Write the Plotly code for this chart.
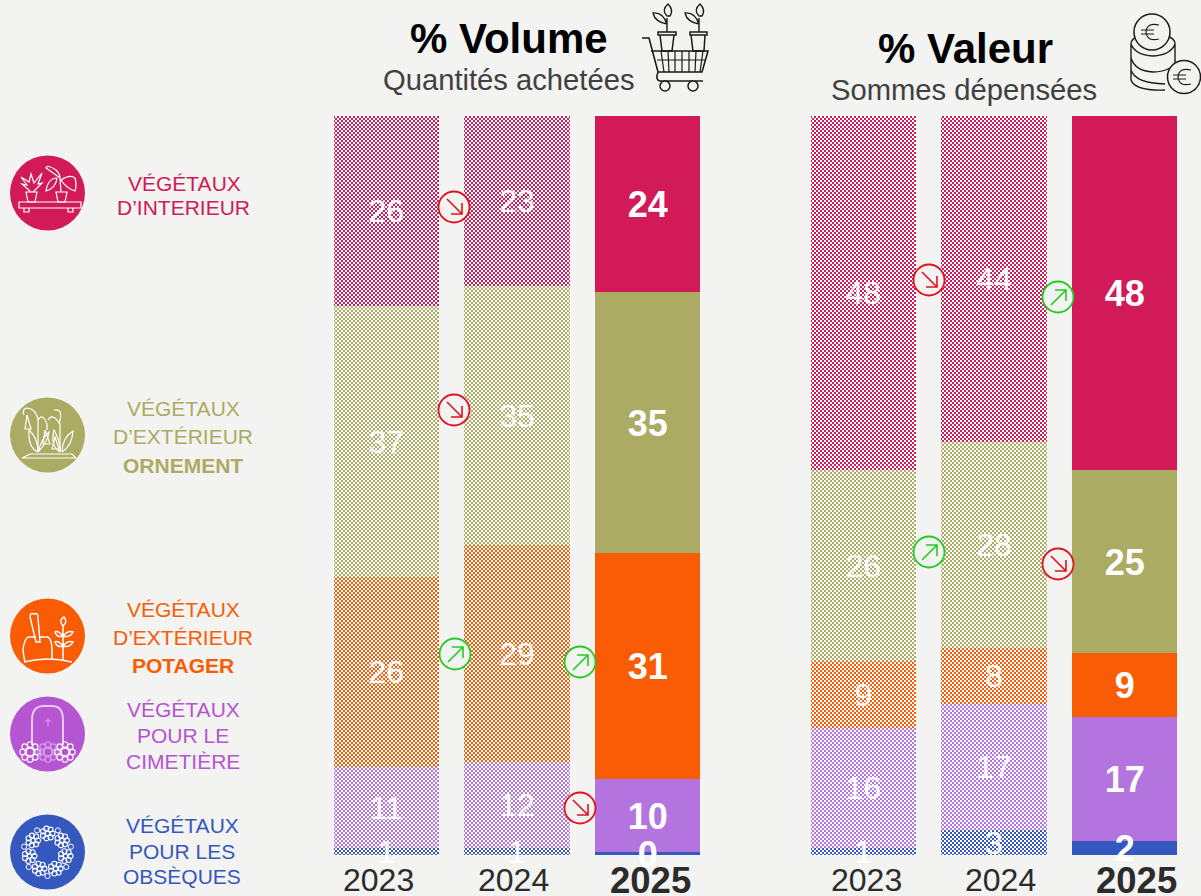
import math
import plotly.graph_objects as go

years = ["2023", "2024", "2025"]
series = ["Obsèques", "Cimetière", "Potager", "Ornement", "Intérieur"]
colors = ["#3558BE", "#B374DF", "#F95C04", "#ABAB63", "#D11A57"]
volume = {
    "Obsèques": [0.95, 0.95, 0.4],
    "Cimetière": [10.95, 11.6, 9.9],
    "Potager": [25.7, 29.4, 30.6],
    "Ornement": [36.7, 35.0, 35.3],
    "Intérieur": [25.7, 23.0, 23.8],
}
valeur = {
    "Obsèques": [0.95, 3.4, 1.9],
    "Cimetière": [16.2, 17.05, 16.8],
    "Potager": [9.1, 7.6, 8.7],
    "Ornement": [25.8, 27.9, 24.8],
    "Intérieur": [47.9, 44.1, 47.9],
}
BG = "#F3F3F1"
W, H = 1201, 896
FONT = "Liberation Sans, Arial, sans-serif"
LABEL_NUDGE = {False: 0.45, True: 0.6}  # optical centring of value labels, in axis %

fig = go.Figure()
for axis, data in (("", volume), ("2", valeur)):
    for name, col in zip(series, colors):
        fig.add_trace(go.Bar(
            x=years, y=data[name], name=name, xaxis="x" + axis, yaxis="y" + axis,
            marker=dict(color=col, line_width=0,
                        pattern=dict(shape=["x", "x", ""], size=4, solidity=0.55,
                                     fgcolor=col, bgcolor="#FFFFFF", fillmode="replace")),
            showlegend=False, hoverinfo="skip"))
    # value labels sit above every bar, centred on each normalised segment
    for i, yr in enumerate(years):
        total = sum(data[n][i] for n in series)
        last = i == 2
        run = 0
        xs, ys, ts = [], [], []
        for n in series:
            v = data[n][i]
            xs.append(yr); ys.append((run + v / 2) * 100 / total - LABEL_NUDGE[last]); ts.append(f"{v:.0f}")
            run += v
        fig.add_trace(go.Scatter(
            x=xs, y=ys, text=ts, mode="text", textposition="middle center", cliponaxis=False,
            xaxis="x" + axis, yaxis="y" + axis, showlegend=False, hoverinfo="skip",
            textfont=dict(family=FONT, color="white", size=36 if last else 32,
                          weight="bold" if last else "normal")))
# pixel overlay axes for decorations
fig.add_trace(go.Scatter(x=[0], y=[0], xaxis="x3", yaxis="y3", mode="markers",
                         marker=dict(opacity=0), showlegend=False, hoverinfo="skip"))

def xa(d, anchor):
    return dict(domain=d, type="category", categoryorder="array", categoryarray=years, anchor=anchor,
                showticklabels=False, ticks="", showline=False, showgrid=False, zeroline=False)
def ya(anchor):
    # 739 px span 0-100; 30 px of spare room below zero keeps the small labels in range
    return dict(domain=[1 - 885 / H, 1 - 116 / H], range=[-30 * 100 / 739, 100], visible=False, anchor=anchor)

shapes, ann = [], []
def line(path, color, w=1.5, layer="above"):
    shapes.append(dict(type="path", xref="x3", yref="y3", path=path, layer=layer,
                       line=dict(color=color, width=w)))
def circ(cx, cy, r, fill=None, color=None, w=1.5):
    shapes.append(dict(type="circle", xref="x3", yref="y3", x0=cx - r, x1=cx + r, y0=cy - r, y1=cy + r,
                       fillcolor=fill if fill else "rgba(0,0,0,0)",
                       line=dict(color=color if color else "rgba(0,0,0,0)", width=w)))
def text(x, y, s, size, color, bold=False):
    ann.append(dict(xref="x3", yref="y3", x=x, y=y, text=f"<b>{s}</b>" if bold else s, showarrow=False,
                    xanchor="center", yanchor="middle", font=dict(family=FONT, size=size, color=color)))

# titles
text(509, 38, "% Volume", 42, "#000000", True)
text(509, 80, "Quantités achetées", 29.2, "#404040")
text(965, 48, "% Valeur", 42, "#000000", True)
text(964, 90, "Sommes dépensées", 29.2, "#404040")

# year labels
for cx, yr in zip((378.5, 513.5, 650.5, 866, 1000, 1136), years * 2):
    last = yr == "2025"
    text(cx, 880, yr, 36.5 if last else 32, "#2B2B2B", last)

# category labels
PINK, OLIVE, ORANGE, PURPLE, BLUE = "#D11A57", "#ABAB63", "#F95C04", "#B655D2", "#3558BE"
LS = 21
text(184, 183, "VÉGÉTAUX", LS, PINK); text(183, 207, "D’INTERIEUR", 21, PINK)
text(183, 408, "VÉGÉTAUX", LS, OLIVE); text(183, 436, "D’EXTÉRIEUR", LS, OLIVE); text(183, 465, "ORNEMENT", LS, OLIVE, True)
text(183, 609, "VÉGÉTAUX", LS, ORANGE); text(183, 637, "D’EXTÉRIEUR", LS, ORANGE); text(183, 665, "POTAGER", LS, ORANGE, True)
text(183, 709, "VÉGÉTAUX", LS, PURPLE); text(183, 735, "POUR LE", LS, PURPLE); text(183, 761, "CIMETIÈRE", LS, PURPLE)
text(182, 825, "VÉGÉTAUX", LS, BLUE); text(182, 851, "POUR LES", LS, BLUE); text(182, 876, "OBSÈQUES", LS, BLUE)

# category discs
for cy, c in ((193, PINK), (435, OLIVE), (636, ORANGE), (734, PURPLE), (852, BLUE)):
    circ(47.5, cy, 37.5, fill=c)

WH = "#FFFFFF"
# interior plants
line("M19,202 H81 V208 H19 Z M24,208 V212 H29 V208 M68,208 V212 H73 V208", WH, 1.2)
line("M26,192 H37 L35,202 H28 Z M56,192 H67 L65,202 H58 Z", WH, 1.2)
line("M31,192 L22,184 L27,185 L21,177 L29,182 L31,174 L34,183 L42,173 L38,184 L42,183 L33,192", WH, 1.2)
line("M61,192 L60,178 M60,178 Q52,172 46,168 Q47,164 56,170 Q60,174 60,178 M61,180 Q70,174 75,178 Q77,186 75,191 Q66,188 61,180 M57,178 Q48,178 46,191 Q56,188 57,178", WH, 1.2)
# ornamental
line("M22,458 H76 L72,454 H30 Z", WH, 1.2)
line("M38,452 V420 Q36,408 26,408 Q22,410 24,415 M38,420 Q42,412 47,424 V430 M60,452 V424 Q52,412 48,420 M59,424 Q64,408 54,410", WH, 1.2)
line("M38,452 Q28,448 29,430 Q38,438 38,452 M38,452 Q48,442 49,432 Q42,438 38,452 M60,452 Q50,446 54,430 Q60,440 60,452 M62,452 Q72,446 73,431 Q62,438 62,452", WH, 1.2)
line("M27,415 L25,429 L31,429 Z M45,430 L43,444 L50,444 Z M55,437 L52,449 L59,449 Z", WH, 1.2)
# vegetable garden
line("M30,617 Q30,612 34,614 Q38,612 38,618 L40,642 H36 Z", WH, 1.5)
line("M36,637 H28 Q24,640 23,650 Q24,658 25,662 M40,637 H48 Q52,640 52,650 V660", WH, 1.5)
line("M24,662 Q48,656 72,662", WH, 1.5)
line("M63,660 V625 M63,626 Q58,620 64,617 Q68,622 63,626 M63,636 Q58,630 55,632 Q57,638 63,636 M63,636 Q68,630 73,632 Q70,638 63,636 M63,646 Q58,640 55,642 Q57,648 63,646 M63,646 Q68,640 73,642 Q70,648 63,646", WH, 1.5)
# cemetery
line("M32,745 V720 Q32,706 44,706 H52 Q63,706 63,720 V745", "#E6C8F0", 2)
line("M48,718 V727 M45,721 H51", "#D6A0E6", 1)
for cx, op in ((30, WH), (48, "#D6A0E6"), (65, WH)):
    circ(cx, 752, 4, color=op, w=1.4)
    for k in range(8):
        a = k * math.pi / 4
        circ(cx + 7.5 * math.cos(a), 752 + 7.5 * math.sin(a), 2.8, color=op, w=1.1)
# wreath
for k in range(7):
    a = -math.pi / 2 + k * 2 * math.pi / 7
    cx, cy = 47.5 + 18.5 * math.cos(a), 852 + 18.5 * math.sin(a)
    circ(cx, cy, 2.2, color=WH, w=1.1)
    for j in range(7):
        b = j * 2 * math.pi / 7
        circ(cx + 5 * math.cos(b), cy + 5 * math.sin(b), 2.5, color=WH, w=1.1)
    a2 = a + math.pi / 7
    lx, ly = 47.5 + 24 * math.cos(a2), 852 + 24 * math.sin(a2)
    circ(lx, ly, 2.6, color=WH, w=1)

# cart icon
K = "#1A1A1A"
line("M642,38 H649 L658,72 H702 L708,51 H651", K, 1.6)
line("M657,60 H705 M661,51 L664,72 M668,51 L669,72 M675,51 V72 M682,51 V72 M689,51 V72 M696,51 L695,72 M703,51 L700,72", K, 1.2)
line("M658,72 Q655,80 660,81 H701 M660,81 H703", K, 1.6)
circ(665, 86, 5, fill=BG, color=K); circ(693, 86, 5, fill=BG, color=K)
line("M658,32 H676 V35 H658 Z M660,35 L662,51 H672 L674,35 M690,32 H707 V35 H690 Z M691,35 L693,51 H704 L705,35", K, 1.5)
line("M667,32 V18 M667,16 Q661,10 668,4 Q674,10 670,16 Z M667,24 Q655,22 653,13 Q663,12 667,24", K, 1.4)
line("M699,32 V18 M699,16 Q693,10 700,4 Q706,10 702,16 Z M699,24 Q687,22 685,13 Q695,12 699,24", K, 1.4)
# coins icon
line("M1131,44 Q1131,38 1140,36 M1175,44 Q1175,38 1166,36 M1131,44 V80 Q1135,91 1165,90 "
     "M1131,44 Q1135,55 1153,56 Q1171,55 1175,44 V64 M1131,58 Q1135,71 1153,72 Q1163,72 1170,68 M1131,70 Q1135,83 1165,84", K, 1.4)
circ(1152, 32, 18, fill=BG, color=K)
line("M1159,25 Q1147,22 1146,32 Q1147,42 1159,39 M1141,30 H1154 M1141,34 H1154", K, 1.2)
circ(1184, 77, 16.5, fill=BG, color=K)
line("M1191,70 Q1179,67 1178,77 Q1179,87 1191,84 M1173,75 H1186 M1173,79 H1186", K, 1.2)

# trend badges
RED, GREEN = "#E3101E", "#22CC22"
def badge(cx, cy, up):
    c = GREEN if up else RED
    circ(cx, cy, 15.5, fill=BG, color=c, w=1.8)
    if up:
        line(f"M{cx-7},{cy+8} L{cx+8},{cy-7} M{cx-3},{cy-7} H{cx+8} V{cy+4}", c, 1.6)
    else:
        line(f"M{cx-7},{cy-8} L{cx+8},{cy+7} M{cx+8},{cy-4} V{cy+7} H{cx-3}", c, 1.6)
for cx, cy, up in ((454, 207, False), (454, 410, False), (455, 654, True), (580, 662, True), (580, 808, False),
                   (929, 280, False), (1058, 297, True), (929, 552, True), (1058, 564, False)):
    badge(cx, cy, up)

fig.update_layout(
    width=W, height=H, margin=dict(l=0, r=0, t=0, b=0),
    paper_bgcolor=BG, plot_bgcolor="rgba(0,0,0,0)",
    barmode="stack", barnorm="percent", bargap=0.195,
    xaxis=xa([321 / W, 713 / W], "y"), yaxis=ya("x"),
    xaxis2=xa([798 / W, 1190 / W], "y2"), yaxis2=ya("x2"),
    xaxis3=dict(domain=[0, 1], range=[0, W], visible=False, anchor="y3", fixedrange=True),
    yaxis3=dict(domain=[0, 1], range=[H, 0], visible=False, anchor="x3", fixedrange=True),
    shapes=shapes, annotations=ann, showlegend=False,
)
# page chrome, and turn the pattern tile into the reference's 2 px checker
POST = """
document.body.style.margin='0';document.body.style.overflow='hidden';document.body.style.background='%s';
document.querySelectorAll('pattern').forEach(function(p){
  var e=p.querySelector('path'); if(!e) return;
  var c=e.getAttribute('stroke');
  p.setAttribute('width',4); p.setAttribute('height',4); p.removeAttribute('patternTransform');
  e.setAttribute('d','M0,0h2v2h-2zM2,2h2v2h-2z');
  e.setAttribute('fill',c); e.setAttribute('stroke','none'); e.setAttribute('shape-rendering','crispEdges');
});
""" % BG
fig.write_html("out.html", config=dict(displayModeBar=False), post_script=POST)
